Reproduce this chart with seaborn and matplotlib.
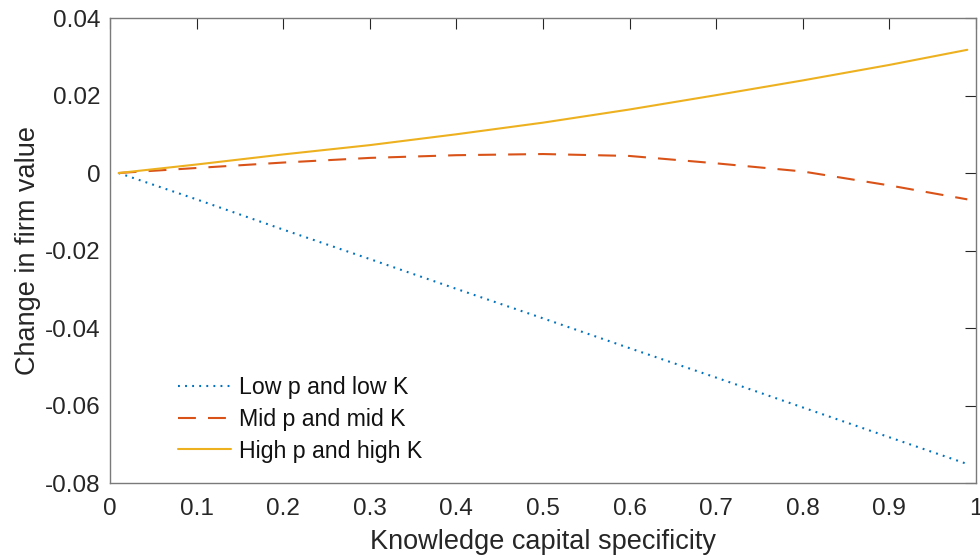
import matplotlib
matplotlib.use("Agg")
import matplotlib.pyplot as plt
import seaborn as sns
import pandas as pd

specificity = [0.01, 0.1, 0.2, 0.3, 0.4, 0.5, 0.6, 0.7, 0.8, 0.9, 0.99]
low_pk = [0.0, -0.0068, -0.0146, -0.0222, -0.0299, -0.0375, -0.0452, -0.0528, -0.0605, -0.0682, -0.0751]
mid_pk = [0.0, 0.0013, 0.0027, 0.0039, 0.0046, 0.0049, 0.0044, 0.0025, 0.0004, -0.0032, -0.0068]
high_pk = [0.0, 0.0022, 0.0048, 0.0072, 0.0100, 0.0130, 0.0164, 0.0201, 0.0239, 0.0279, 0.0318]

labels = ["Low p and low K", "Mid p and mid K", "High p and high K"]
colors = ["#0072BD", "#D95319", "#EDB120"]
dash_specs = [(0.9, 2.5), (8.6, 5.8), ""]

xticks = [0, 0.1, 0.2, 0.3, 0.4, 0.5, 0.6, 0.7, 0.8, 0.9, 1]
xticklabels = ["0", "0.1", "0.2", "0.3", "0.4", "0.5", "0.6", "0.7", "0.8", "0.9", "1"]
yticks = [-0.08, -0.06, -0.04, -0.02, 0, 0.02, 0.04]
yticklabels = ["-0.08", "-0.06", "-0.04", "-0.02", "0", "0.02", "0.04"]

sns.set_theme(style="white")
plt.rcParams["font.family"] = ["Liberation Sans", "DejaVu Sans"]

df = pd.DataFrame({
    "x": specificity * 3,
    "y": low_pk + mid_pk + high_pk,
    "series": [labels[0]] * len(specificity) + [labels[1]] * len(specificity) + [labels[2]] * len(specificity),
})

fig = plt.figure(figsize=(9.8, 5.58), dpi=100)
ax = fig.add_axes([0.1122, 0.1344, 0.8837, 0.8333])

sns.lineplot(
    data=df, x="x", y="y", hue="series", style="series",
    hue_order=labels, style_order=labels,
    palette=dict(zip(labels, colors)),
    dashes=dict(zip(labels, dash_specs)),
    linewidth=1.5, ax=ax,
)
for line in ax.get_lines():
    line.set_dash_capstyle("butt")

ax.set_xlim(0, 1)
ax.set_ylim(-0.08, 0.04)
ax.set_xticks(xticks)
ax.set_xticklabels(xticklabels)
ax.set_yticks(yticks)
ax.set_yticklabels(yticklabels)
ax.tick_params(axis="both", direction="in", length=8, width=0.8, color="#262626",
               labelsize=17.5, labelcolor="#262626", top=True, right=True)
ax.tick_params(axis="x", pad=11)
ax.tick_params(axis="y", pad=7)
for sp in ax.spines.values():
    sp.set_visible(True)
    sp.set_color("#7a7a7a")
    sp.set_linewidth(1.0)

ax.set_xlabel("Knowledge capital specificity", fontsize=19.5, color="#262626", labelpad=6)
ax.set_ylabel("Change in firm value", fontsize=19.5, color="#262626", labelpad=2.5)

leg = ax.legend(loc="lower left", bbox_to_anchor=(0.0785, 0.044), frameon=False,
                borderpad=0, borderaxespad=0,
                fontsize=16.7, handlelength=2.3, handletextpad=0.34, labelspacing=0.38)
for t in leg.get_texts():
    t.set_color("#111111")

fig.savefig("out.png", dpi=100)
